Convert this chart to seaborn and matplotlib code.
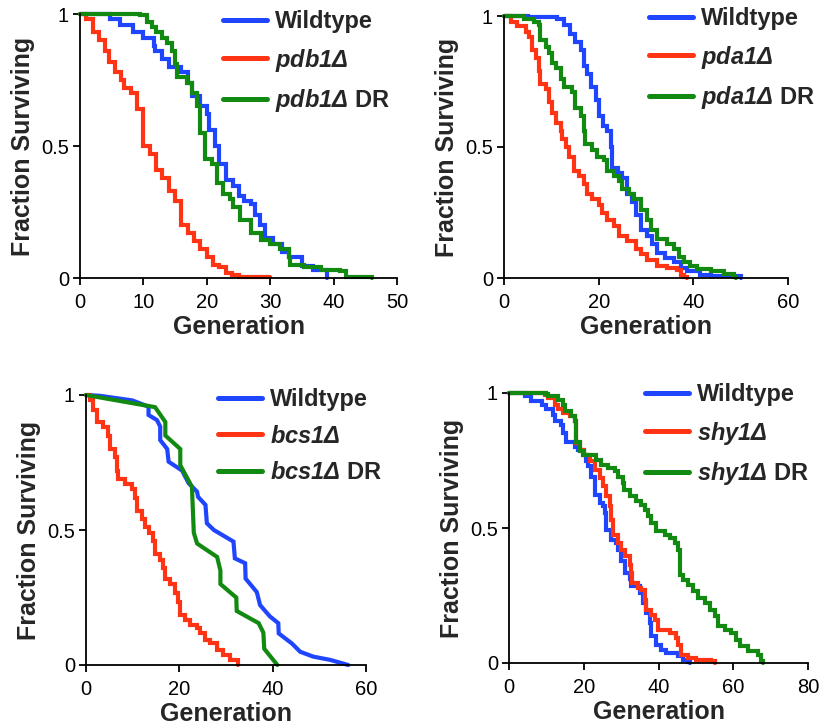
import matplotlib
matplotlib.use("Agg")
import matplotlib.pyplot as plt
import seaborn as sns
import pandas as pd
from matplotlib.lines import Line2D

# ---------------- survival data (generation, fraction surviving) ----------------
# Panel A: pdb1
pdb1_wt_gen = [0, 4.7, 6.3, 8.4, 10, 11.6, 11.9, 13, 14, 16, 17, 17.6, 19, 20, 20.3, 21.3, 22, 23,
               24.2, 25, 25.8, 27, 27.6, 28.4, 29.2, 30.5, 31.8, 33, 35, 36.8, 38.9]
pdb1_wt_frac = [1, .98, .96, .93, .91, .88, .86, .83, .80, .78, .74, .69, .65, .62, .56, .50, .43, .37,
                .35, .31, .29, .28, .24, .20, .15, .13, .10, .08, .045, .03, 0]
pdb1_mut_gen = [0, 1, 2, 3, 4, 4.5, 5.5, 6.5, 7, 8, 9, 10, 11, 12, 13, 14, 15, 16, 17, 18, 19, 20,
                21, 22, 23, 24, 25, 30]
pdb1_mut_frac = [1, .98, .93, .90, .86, .82, .78, .75, .72, .70, .64, .50, .47, .41, .38, .33, .29, .20,
                 .17, .14, .11, .08, .05, .04, .02, .01, .003, .003]
pdb1_dr_gen = [0, 9.5, 10.5, 11.3, 12, 13, 13.7, 14.5, 15, 15.3, 16.8, 17.6, 18.4, 19, 19.7, 20.8,
               21.6, 22.6, 23.7, 24.2, 25.3, 27, 28.5, 30, 31.6, 33, 33.1, 35.3, 38, 41, 42, 46]
pdb1_dr_frac = [1, .995, .97, .95, .93, .91, .89, .86, .81, .76, .74, .70, .65, .55, .45, .43,
                .36, .32, .30, .27, .22, .17, .145, .13, .11, .08, .05, .04, .03, .025, .005, 0]

# Panel B: pda1
pda1_wt_gen = [0, 5, 11.3, 12.7, 14, 15, 16.2, 17, 17.6, 18.3, 19.4, 20, 21, 21.8, 22.5, 22.9, 24,
               25, 26, 27.1, 27.8, 28.9, 30.3, 31.3, 32.4, 34, 36, 37.3, 38.7, 41.5, 43.7, 50]
pda1_wt_frac = [1, .995, .99, .965, .93, .90, .87, .81, .78, .73, .68, .62, .58, .56, .50, .42, .40,
                .38, .32, .29, .24, .185, .16, .13, .095, .075, .06, .04, .025, .013, .006, 0]
pda1_mut_gen = [0, 1.4, 2.8, 4.6, 5.3, 6, 6.7, 7.4, 7.7, 8.8, 9.5, 10.2, 10.9, 12, 12.3, 13, 13.7,
                14.8, 15.8, 16.9, 17.6, 18.6, 20, 20.8, 21.8, 23.2, 24.3, 26, 27.8, 28.9, 30.3,
                32.4, 34.5, 36.6, 37.3, 38, 38.6]
pda1_mut_frac = [1, .977, .96, .94, .92, .87, .84, .79, .74, .72, .67, .63, .59, .56, .53, .50, .46,
                 .41, .39, .36, .32, .30, .28, .25, .22, .20, .16, .14, .11, .09, .07,
                 .045, .04, .03, .013, .003, 0]
pda1_dr_gen = [0, 4.2, 6.3, 7.4, 7.7, 8.8, 9.5, 10.2, 10.9, 12, 12.7, 14.4, 15.1, 16.2, 16.9, 17.2,
               18.6, 19.7, 21.1, 21.8, 23.2, 24.3, 25, 26.4, 27.5, 28.9, 30.3, 31, 32.4, 34.5, 36,
               37, 38, 39.4, 40.8, 43.7, 46.5, 48.6, 49]
pda1_dr_frac = [1, .99, .977, .965, .91, .88, .86, .82, .80, .76, .73, .71, .65, .62, .56, .51,
                .49, .46, .45, .41, .39, .37, .34, .32, .30, .26, .22, .185, .15, .13, .11,
                .08, .06, .045, .035, .025, .017, .003, 0]

# Panel C: bcs1
bcs1_wt_gen = [0, 3, 9.9, 13.4, 13.4, 15.2, 15.9, 15.9, 17.4, 17.7, 20.6, 22, 23.8, 24, 25.6, 25.9,
               27.4, 31.6, 31.9, 34.1, 34.2, 36.6, 37.3, 39.4, 41.2, 41.3, 44.1, 45.9, 48.7, 52.3, 56.2]
bcs1_wt_frac = [1, .997, .98, .957, .926, .907, .883, .833, .80, .753, .72, .673, .642, .623, .593, .525,
                .50, .457, .395, .377, .32, .27, .222, .18, .155, .117, .08, .049, .031, .019, 0]
bcs1_mut_gen = [0, .9, 1.6, 2.3, 3.7, 4.8, 5.1, 6.2, 6.6, 6.9, 8.4, 9.8, 10.5, 10.9, 12, 12.6, 13.4,
                14.4, 14.8, 15.9, 16.6, 16.9, 18, 19, 19.8, 20.1, 21.2, 22.3, 23.7, 24.4, 25.5, 26.6,
                28, 29.4, 30.9, 32.6]
bcs1_mut_frac = [1, .98, .945, .90, .88, .85, .80, .77, .72, .69, .67, .65, .62, .57, .54, .51, .49,
                 .46, .41, .39, .36, .32, .30, .265, .235, .185, .167, .148, .136, .117, .093, .08,
                 .056, .037, .019, 0]
bcs1_dr_gen = [0, 14.8, 17.0, 17.0, 20.2, 20.2, 22.7, 23.1, 23.8, 28.1, 28.8, 28.8, 31.5, 32.2, 32.3,
               37, 38, 38.2, 41]
bcs1_dr_frac = [1, .955, .90, .85, .80, .74, .66, .49, .45, .40, .35, .30, .26, .25, .20,
                .155, .12, .06, 0]

# Panel D: shy1
shy1_wt_gen = [0, 4.2, 6, 8.7, 10, 11.8, 12.2, 14, 14.5, 15.3, 17.6, 18.5, 19.8, 20.7, 21.1, 22,
               22.9, 24.3, 25.2, 25.6, 26, 27.4, 28.7, 29.2, 30, 31, 32.3, 32.7, 35, 35.9, 36.7,
               37.6, 38.1, 39.4, 40.8, 42.1, 45.2, 46.6, 47.9, 48.5]
shy1_wt_frac = [1, .988, .97, .957, .94, .92, .895, .883, .852, .82, .80, .79, .77, .747, .728, .69,
                .623, .593, .58, .556, .494, .457, .444, .42, .377, .335, .31, .284, .26, .222, .185,
                .148, .099, .068, .049, .037, .025, .012, .002, 0]
shy1_mut_gen = [0, 9.5, 10.4, 12.2, 13.1, 14.5, 16.2, 17.6, 18, 18.9, 20.2, 21.6, 22.9, 24.3, 25.2,
                26, 26.9, 27.4, 27.8, 29.2, 30, 31, 32.3, 32.7, 32.8, 34.5, 35.4, 36.3, 36.7, 38.1,
                39, 39.9, 43, 44.8, 45.2, 46.1, 47.9, 50.1, 54.1, 55]
shy1_mut_frac = [1, .994, .98, .957, .94, .926, .914, .895, .815, .79, .772, .747, .716, .685, .654,
                 .617, .58, .53, .475, .444, .42, .395, .364, .333, .296, .278, .272, .235, .198, .179,
                 .16, .123, .111, .093, .068, .031, .019, .012, .006, 0]
shy1_dr_gen = [0, 10, 10.4, 13.1, 14.5, 14.9, 16.7, 17.6, 18, 18.9, 20.2, 23.3, 24.7, 26.5, 28.3,
               29.2, 30.5, 30.9, 32.3, 34, 35.4, 36.3, 37.2, 38.1, 39.4, 41.7, 43, 44.4, 45.2, 45.7,
               46.6, 47.9, 49.2, 50.6, 52.4, 53.7, 55, 55.9, 57.7, 59.5, 60.8, 61.7, 64, 66.6,
               67.5, 68]
shy1_dr_frac = [1, .998, .988, .975, .957, .932, .914, .895, .82, .784, .772, .753, .735, .722, .71,
                .69, .667, .642, .617, .60, .586, .568, .543, .519, .488, .475, .463, .444, .42, .327,
                .309, .29, .265, .241, .222, .198, .173, .136, .123, .111, .086, .062, .043, .031,
                .006, 0]

# ---------------- styling ----------------
sns.set_style("ticks")
plt.rcParams["font.family"] = ["Liberation Sans", "DejaVu Sans"]
# gene names are set in bold italic through mathtext
plt.rcParams["mathtext.fontset"] = "custom"
plt.rcParams["mathtext.rm"] = "Liberation Sans:bold:italic"
plt.rcParams["mathtext.bf"] = "Liberation Sans:bold:italic"
plt.rcParams["mathtext.it"] = "Liberation Sans:bold:italic"

BLUE = "#1f45ff"
RED = "#ff3414"
GREEN = "#128a12"
LW = 3.0

fig = plt.figure(figsize=(8.22, 7.28), dpi=100)
W, H = 822, 728


def px_axes(x0, y0, x1, y1):
    return fig.add_axes([x0 / W, 1 - y1 / H, (x1 - x0) / W, (y1 - y0) / H])


panels = [
    dict(box=(80, 14, 397, 278), xmax=50, xticks=[0, 10, 20, 30, 40, 50], gene="pdb1",
         series=[(pdb1_wt_gen, pdb1_wt_frac, BLUE, "steps-post"),
                 (pdb1_mut_gen, pdb1_mut_frac, RED, "steps-post"),
                 (pdb1_dr_gen, pdb1_dr_frac, GREEN, "steps-post")],
         legend=(223, 10)),
    dict(box=(504, 16, 788, 278), xmax=60, xticks=[0, 20, 40, 60], gene="pda1",
         series=[(pda1_wt_gen, pda1_wt_frac, BLUE, "steps-post"),
                 (pda1_mut_gen, pda1_mut_frac, RED, "steps-post"),
                 (pda1_dr_gen, pda1_dr_frac, GREEN, "steps-post")],
         legend=(649, 7)),
    dict(box=(86, 395, 366, 665), xmax=60, xticks=[0, 20, 40, 60], gene="bcs1",
         series=[(bcs1_wt_gen, bcs1_wt_frac, BLUE, "default"),
                 (bcs1_mut_gen, bcs1_mut_frac, RED, "steps-post"),
                 (bcs1_dr_gen, bcs1_dr_frac, GREEN, "default")],
         legend=(218, 388)),
    dict(box=(509, 393, 808, 663), xmax=80, xticks=[0, 20, 40, 60, 80], gene="shy1",
         series=[(shy1_wt_gen, shy1_wt_frac, BLUE, "steps-post"),
                 (shy1_mut_gen, shy1_mut_frac, RED, "steps-post"),
                 (shy1_dr_gen, shy1_dr_frac, GREEN, "steps-post")],
         legend=(645, 383)),
]

for p in panels:
    ax = px_axes(*p["box"])
    for gen, frac, color, ds in p["series"]:
        df = pd.DataFrame({"Generation": gen, "Fraction": frac})
        sns.lineplot(data=df, x="Generation", y="Fraction", ax=ax, sort=False, estimator=None,
                     color=color, linewidth=LW, drawstyle=ds, clip_on=False,
                     solid_joinstyle="miter")
    ax.set_xlim(0, p["xmax"])
    ax.set_ylim(0, 1)
    ax.set_xticks(p["xticks"])
    ax.set_xticklabels([str(t) for t in p["xticks"]])
    ax.set_yticks([0, 0.5, 1])
    ax.set_yticklabels(["0", "0.5", "1"])
    ax.tick_params(axis="both", labelsize=14.5, length=5, width=1.3, color="black",
                   labelcolor="black", pad=3)
    ax.tick_params(axis="x", pad=6)
    sns.despine(ax=ax)
    for s in ("left", "bottom"):
        ax.spines[s].set_linewidth(1.3)
        ax.spines[s].set_color("black")
    ax.set_xlabel("Generation", fontsize=18, fontweight="bold", labelpad=2)
    ax.set_ylabel("Fraction Surviving", fontsize=18, fontweight="bold", labelpad=4)

    g = p["gene"]
    handles = [Line2D([], [], color=c, linewidth=3.6) for c in (BLUE, RED, GREEN)]
    labels = ["Wildtype", r"$" + g + "Δ$", r"$" + g + "Δ$ DR"]
    lx, ly = p["legend"]
    ax.legend(handles, labels, loc="upper left", bbox_to_anchor=(lx / W, 1 - ly / H),
              bbox_transform=fig.transFigure, frameon=False, borderpad=0, borderaxespad=0,
              handlelength=1.85, handletextpad=0.35, labelspacing=0.58,
              prop={"weight": "bold", "size": 17})

fig.savefig("out.png", dpi=100)
